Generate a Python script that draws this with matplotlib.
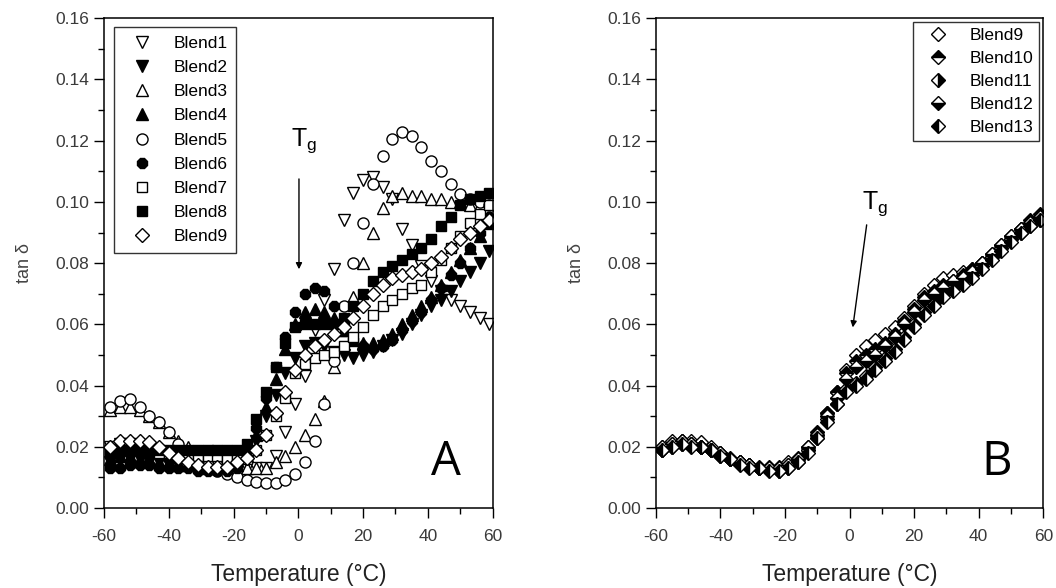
import matplotlib
matplotlib.use("Agg")
import matplotlib.pyplot as plt

plt.rcParams['font.family'] = ['Liberation Sans', 'DejaVu Sans']
plt.rcParams['mathtext.default'] = 'regular'
plt.rcParams['axes.unicode_minus'] = False

# temperature grid (deg C) shared by all blends
temp = [-58, -55, -52, -49, -46, -43, -40, -37, -34, -31, -28, -25, -22, -19, -16, -13,
        -10, -7, -4, -1, 2, 5, 8, 11, 14, 17, 20, 23, 26, 29, 32, 35, 38, 41, 44, 47,
        50, 53, 56, 59]

# tan delta, panel A
blend1 = [0.020, 0.021, 0.021, 0.020, 0.019, 0.018, 0.017, 0.016, 0.015, 0.015, 0.014, 0.014,
          0.013, 0.013, 0.013, 0.013, 0.013, 0.017, 0.025, 0.034, 0.043, 0.058, 0.068, 0.078,
          0.094, 0.103, 0.107, 0.108, 0.105, 0.101, 0.091, 0.086, 0.079, 0.074, 0.071, 0.068,
          0.066, 0.064, 0.062, 0.060]
blend2 = [0.015, 0.016, 0.016, 0.016, 0.015, 0.015, 0.014, 0.014, 0.014, 0.013, 0.013, 0.013,
          0.013, 0.013, 0.015, 0.022, 0.030, 0.037, 0.044, 0.049, 0.053, 0.054, 0.053, 0.051,
          0.050, 0.049, 0.050, 0.051, 0.053, 0.055, 0.057, 0.060, 0.063, 0.066, 0.068, 0.071,
          0.074, 0.077, 0.080, 0.084]
blend3 = [0.032, 0.033, 0.033, 0.032, 0.030, 0.028, 0.025, 0.022, 0.020, 0.018, 0.017, 0.016,
          0.015, 0.014, 0.013, 0.013, 0.013, 0.015, 0.017, 0.020, 0.024, 0.029, 0.035, 0.046,
          0.058, 0.069, 0.080, 0.090, 0.098, 0.102, 0.103, 0.102, 0.102, 0.101, 0.101, 0.100,
          0.100, 0.099, 0.099, 0.098]
blend4 = [0.016, 0.017, 0.017, 0.016, 0.016, 0.015, 0.015, 0.014, 0.014, 0.014, 0.013, 0.013,
          0.013, 0.014, 0.017, 0.024, 0.033, 0.042, 0.052, 0.060, 0.064, 0.065, 0.064, 0.062,
          0.058, 0.055, 0.054, 0.054, 0.055, 0.057, 0.060, 0.063, 0.066, 0.069, 0.073, 0.077,
          0.081, 0.085, 0.089, 0.093]
blend5 = [0.033, 0.035, 0.0355, 0.033, 0.030, 0.028, 0.025, 0.021, 0.018, 0.016, 0.014, 0.012,
          0.011, 0.010, 0.009, 0.0085, 0.0082, 0.0082, 0.009, 0.011, 0.015, 0.022, 0.034, 0.048,
          0.066, 0.080, 0.093, 0.106, 0.115, 0.1205, 0.1228, 0.1215, 0.118, 0.1135, 0.110,
          0.106, 0.1025, 0.101, 0.100, 0.099]
blend6 = [0.013, 0.013, 0.014, 0.014, 0.014, 0.013, 0.013, 0.013, 0.013, 0.012, 0.012, 0.012,
          0.012, 0.013, 0.018, 0.026, 0.036, 0.046, 0.056, 0.064, 0.070, 0.072, 0.071, 0.066,
          0.060, 0.055, 0.053, 0.052, 0.053, 0.055, 0.058, 0.061, 0.064, 0.068, 0.072, 0.076,
          0.080, 0.085, 0.090, 0.095]
blend7 = [0.019, 0.019, 0.019, 0.019, 0.019, 0.018, 0.018, 0.018, 0.017, 0.017, 0.017, 0.017,
          0.016, 0.016, 0.016, 0.019, 0.024, 0.030, 0.036, 0.044, 0.047, 0.049, 0.050, 0.051,
          0.053, 0.056, 0.059, 0.063, 0.066, 0.068, 0.070, 0.072, 0.073, 0.077, 0.081, 0.085,
          0.089, 0.093, 0.096, 0.099]
blend8 = [0.018, 0.019, 0.019, 0.019, 0.019, 0.019, 0.019, 0.019, 0.019, 0.019, 0.019, 0.019,
          0.019, 0.019, 0.021, 0.029, 0.038, 0.046, 0.054, 0.059, 0.060, 0.060, 0.060, 0.060,
          0.062, 0.066, 0.070, 0.074, 0.077, 0.079, 0.081, 0.083, 0.085, 0.088, 0.092, 0.095,
          0.099, 0.101, 0.102, 0.103]
blend9 = [0.020, 0.022, 0.022, 0.022, 0.0215, 0.020, 0.018, 0.0165, 0.015, 0.014, 0.0135,
          0.0134, 0.0135, 0.015, 0.0165, 0.019, 0.024, 0.031, 0.038, 0.045, 0.050, 0.053, 0.055,
          0.057, 0.059, 0.062, 0.066, 0.070, 0.073, 0.075, 0.076, 0.077, 0.078, 0.080, 0.082,
          0.085, 0.088, 0.090, 0.092, 0.094]

# tan delta, panel B (blend9 shared)
blend10 = [0.019, 0.021, 0.022, 0.021, 0.020, 0.019, 0.018, 0.016, 0.015, 0.014, 0.013, 0.013,
           0.013, 0.014, 0.016, 0.020, 0.025, 0.031, 0.038, 0.044, 0.048, 0.050, 0.052, 0.054,
           0.057, 0.061, 0.065, 0.069, 0.071, 0.073, 0.074, 0.076, 0.078, 0.080, 0.083, 0.086,
           0.089, 0.091, 0.094, 0.096]
blend11 = [0.019, 0.020, 0.021, 0.021, 0.020, 0.019, 0.017, 0.016, 0.015, 0.014, 0.013, 0.013,
           0.012, 0.013, 0.015, 0.019, 0.023, 0.029, 0.034, 0.039, 0.041, 0.043, 0.046, 0.049,
           0.052, 0.056, 0.060, 0.064, 0.067, 0.070, 0.072, 0.074, 0.076, 0.079, 0.082, 0.085,
           0.088, 0.091, 0.093, 0.095]
blend12 = [0.020, 0.021, 0.022, 0.021, 0.020, 0.019, 0.018, 0.016, 0.015, 0.014, 0.013, 0.013,
           0.013, 0.014, 0.016, 0.020, 0.024, 0.030, 0.036, 0.042, 0.046, 0.048, 0.050, 0.053,
           0.056, 0.060, 0.064, 0.068, 0.070, 0.072, 0.074, 0.075, 0.077, 0.080, 0.083, 0.086,
           0.089, 0.091, 0.093, 0.095]
blend13 = [0.019, 0.020, 0.021, 0.020, 0.020, 0.019, 0.017, 0.016, 0.014, 0.013, 0.013, 0.012,
           0.012, 0.013, 0.015, 0.018, 0.023, 0.028, 0.034, 0.038, 0.040, 0.042, 0.045, 0.048,
           0.051, 0.055, 0.059, 0.063, 0.066, 0.069, 0.071, 0.073, 0.075, 0.078, 0.081, 0.084,
           0.087, 0.090, 0.092, 0.094]

series_a = [
    ("Blend1", blend1, dict(marker='v', mfc='white', ms=8.5)),
    ("Blend2", blend2, dict(marker='v', mfc='black', ms=8.5)),
    ("Blend3", blend3, dict(marker='^', mfc='white', ms=8.5)),
    ("Blend4", blend4, dict(marker='^', mfc='black', ms=8.5)),
    ("Blend5", blend5, dict(marker='o', mfc='white', ms=8)),
    ("Blend6", blend6, dict(marker='8', mfc='black', ms=8)),
    ("Blend7", blend7, dict(marker='s', mfc='white', ms=7)),
    ("Blend8", blend8, dict(marker='s', mfc='black', ms=7)),
    ("Blend9", blend9, dict(marker='D', mfc='white', ms=7)),
]
series_b = [
    ("Blend9", blend9, dict(marker='D', mfc='white', ms=7.5)),
    ("Blend10", blend10, dict(marker='D', mfc='black', fillstyle='top', mfcalt='white', ms=7.5)),
    ("Blend11", blend11, dict(marker='D', mfc='black', fillstyle='right', mfcalt='white', ms=7.5)),
    ("Blend12", blend12, dict(marker='D', mfc='black', fillstyle='bottom', mfcalt='white', ms=7.5)),
    ("Blend13", blend13, dict(marker='D', mfc='black', fillstyle='left', mfcalt='white', ms=7.5)),
]

fig = plt.figure(figsize=(10.56, 5.88), dpi=100)
ax_a = fig.add_axes([0.0985, 0.136, 0.368, 0.833])
ax_b = fig.add_axes([0.621, 0.136, 0.367, 0.833])

tick_col = '#3a3a3a'

for ax, series, letter in [(ax_a, series_a, 'A'), (ax_b, series_b, 'B')]:
    for name, vals, style in series:
        ax.plot(temp, vals, linestyle='none', mec='black', mew=1.0, label=name, **style)
    ax.set_xlim(-60, 60)
    ax.set_ylim(0, 0.16)
    ax.set_xticks([-60, -40, -20, 0, 20, 40, 60])
    ax.set_xticks(range(-50, 60, 20), minor=True)
    ax.set_yticks([0, 0.02, 0.04, 0.06, 0.08, 0.10, 0.12, 0.14, 0.16])
    ax.set_yticks([0.01, 0.03, 0.05, 0.07, 0.09, 0.11, 0.13, 0.15], minor=True)
    ax.yaxis.set_major_formatter(plt.FormatStrFormatter('%.2f'))
    ax.tick_params(which='major', direction='out', length=7, width=1, labelsize=12.5,
                   labelcolor=tick_col, top=False, right=False)
    ax.tick_params(which='minor', direction='out', length=4, width=1, top=False, right=False)
    ax.tick_params(axis='x', pad=8)
    for sp in ax.spines.values():
        sp.set_linewidth(1.1)
    ax.set_xlabel('Temperature (°C)', fontsize=16.5, color='#222222', labelpad=14)
    ax.set_ylabel('tan δ', fontsize=13, color='#444444', labelpad=16)
    ax.text(45.5, 0.015, letter, fontsize=34, family='Open Sans', ha='center', va='center')

leg_a = ax_a.legend(loc='upper left', bbox_to_anchor=(0.026, 0.982), borderaxespad=0,
                    fontsize=12.5, frameon=True, fancybox=False, edgecolor='black',
                    labelspacing=0.52, handletextpad=0.7, borderpad=0.5, handlelength=2.2)
leg_a.get_frame().set_linewidth(1.0)
leg_b = ax_b.legend(loc='upper right', bbox_to_anchor=(0.99, 0.992), borderaxespad=0,
                    fontsize=12.5, frameon=True, fancybox=False, edgecolor='black',
                    labelspacing=0.45, handletextpad=0.7, borderpad=0.35, handlelength=2.2)
leg_b.get_frame().set_linewidth(1.0)

arrow = dict(arrowstyle='-|>', color='black', lw=1.0, mutation_scale=9, shrinkA=0, shrinkB=0)
ax_a.text(1.8, 0.120, 'T$_g$', fontsize=18, ha='center', va='center')
ax_a.annotate('', xy=(0.2, 0.078), xytext=(0.2, 0.1075), arrowprops=arrow)
ax_b.text(7.8, 0.0995, 'T$_g$', fontsize=18, ha='center', va='center')
ax_b.annotate('', xy=(1.0, 0.059), xytext=(5.3, 0.0925), arrowprops=arrow)

fig.savefig('out.png', dpi=100)
